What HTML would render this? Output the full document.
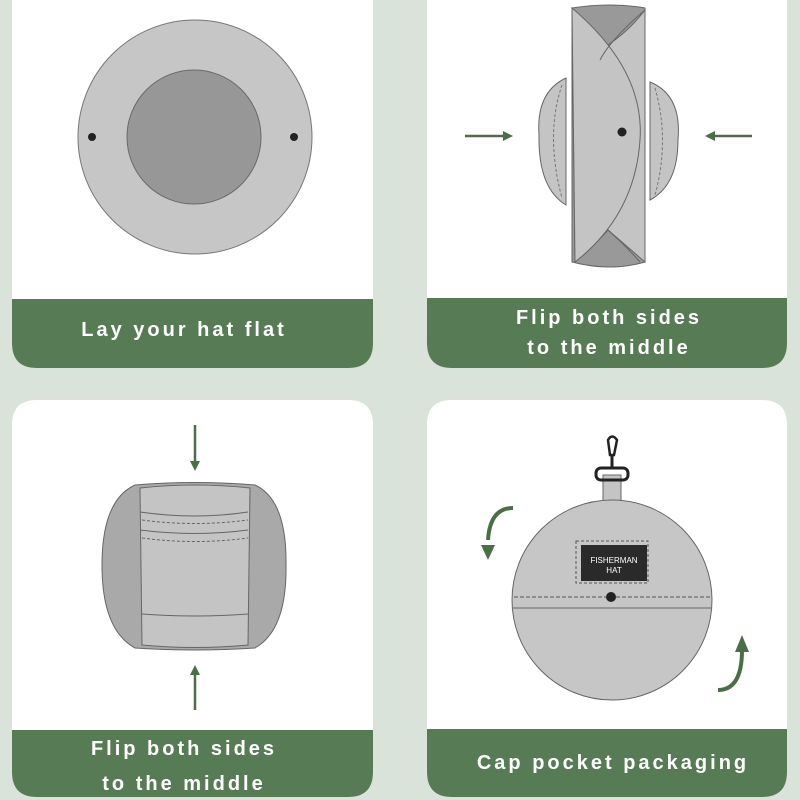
<!DOCTYPE html>
<html><head><meta charset="utf-8"><style>
html,body{margin:0;padding:0;background:#dae3d9;}
svg{display:block}
text{font-family:"Liberation Sans","DejaVu Sans",sans-serif;font-weight:bold;fill:#fff;letter-spacing:3px}
</style></head><body>
<svg width="800" height="800" viewBox="0 0 800 800">
<defs>
<marker id="ah" viewBox="0 0 10 10" refX="5" refY="5" markerWidth="4" markerHeight="4" orient="auto"><path d="M0,0 L10,5 L0,10 z" fill="#4b6e47"/></marker>
</defs>
<rect width="800" height="800" fill="#dae3d9"/>
<!-- Card 1 -->
<path d="M12,-30 H373 V343 Q373,368 348,368 H37 Q12,368 12,343 Z" fill="#fff"/>
<path d="M12,299 H373 V343 Q373,368 348,368 H37 Q12,368 12,343 Z" fill="#577c55"/>
<circle cx="195" cy="137" r="117" fill="#c6c6c6" stroke="#777" stroke-width="1"/>
<circle cx="194" cy="137" r="67" fill="#979797" stroke="#6a6a6a" stroke-width="1"/>
<circle cx="92" cy="137" r="4" fill="#222"/>
<circle cx="294" cy="137" r="4" fill="#222"/>
<text x="184" y="336" font-size="20" text-anchor="middle">Lay your hat flat</text>
<!-- Card 2 -->
<path d="M427,-30 H787 V343 Q787,368 762,368 H452 Q427,368 427,343 Z" fill="#fff"/>
<path d="M427,298 H787 V343 Q787,368 762,368 H452 Q427,368 427,343 Z" fill="#577c55"/>
<g stroke="#666" stroke-width="1">
<path d="M572,8 Q610,2 645,8 L645,262 Q610,272 572,262 Z" fill="#999"/>
<path d="M566,78 Q536,92 539,135 Q538,188 566,205 Z" fill="#c4c4c4"/>
<path d="M650,82 Q682,95 678,140 Q678,185 650,200 Z" fill="#c4c4c4"/>
<path d="M572,8 L608,45 Q630,30 645,10 L645,262 L608,230 Q590,250 575,262 Z" fill="#c4c4c4"/>
<path d="M572,8 Q645,70 640,140 Q635,215 575,262 Z" fill="#c4c4c4"/>
<path d="M645,10 Q610,40 600,60" fill="none"/>
<path d="M608,230 Q625,245 640,262" fill="none"/>
</g>
<path d="M562,85 Q545,135 562,198" fill="none" stroke="#777" stroke-dasharray="3,2"/>
<path d="M655,88 Q670,140 655,195" fill="none" stroke="#777" stroke-dasharray="3,2"/>
<circle cx="622" cy="132" r="4.5" fill="#222"/>
<line x1="465" y1="136" x2="508" y2="136" stroke="#4b6e47" stroke-width="2.5" marker-end="url(#ah)"/>
<line x1="752" y1="136" x2="710" y2="136" stroke="#4b6e47" stroke-width="2.5" marker-end="url(#ah)"/>
<text x="609" y="324" font-size="20" text-anchor="middle">Flip both sides</text>
<text x="609" y="354" font-size="20" text-anchor="middle">to the middle</text>
<!-- Card 3 -->
<path d="M37,400 H348 Q373,400 373,425 V772 Q373,797 348,797 H37 Q12,797 12,772 V425 Q12,400 37,400 Z" fill="#fff"/>
<path d="M12,730 H373 V772 Q373,797 348,797 H37 Q12,797 12,772 Z" fill="#577c55"/>
<path d="M135,485 Q195,480 255,485 Q287,500 286,565 Q287,630 255,648 Q195,652 135,648 Q102,630 102,565 Q102,500 135,485 Z" fill="#a9a9a9" stroke="#666"/>
<path d="M140,488 Q195,482 250,488 L248,645 Q195,650 142,645 Z" fill="#c4c4c4" stroke="#666"/>
<path d="M140,512 Q195,520 248,512" fill="none" stroke="#666"/>
<path d="M140,530 Q195,537 248,530" fill="none" stroke="#666"/>
<path d="M142,614 Q195,618 248,614" fill="none" stroke="#666"/>
<path d="M142,520 Q195,527 248,520 M142,538 Q195,545 248,538" fill="none" stroke="#666" stroke-dasharray="3,2"/>
<line x1="195" y1="425" x2="195" y2="466" stroke="#4b6e47" stroke-width="2.5" marker-end="url(#ah)"/>
<line x1="195" y1="710" x2="195" y2="670" stroke="#4b6e47" stroke-width="2.5" marker-end="url(#ah)"/>
<text x="184" y="755" font-size="20" text-anchor="middle">Flip both sides</text>
<text x="184" y="790" font-size="20" text-anchor="middle">to the middle</text>
<!-- Card 4 -->
<path d="M452,400 H762 Q787,400 787,425 V772 Q787,797 762,797 H452 Q427,797 427,772 V425 Q427,400 452,400 Z" fill="#fff"/>
<path d="M427,729 H787 V772 Q787,797 762,797 H452 Q427,797 427,772 Z" fill="#577c55"/>
<rect x="603" y="475" width="18" height="35" fill="#c4c4c4" stroke="#666"/>
<path d="M608,440 Q612,433 617,440 L614,455 L610,455 Z" fill="none" stroke="#222" stroke-width="2.5"/>
<rect x="596" y="468" width="32" height="12" rx="5" fill="none" stroke="#222" stroke-width="3"/>
<line x1="612" y1="455" x2="612" y2="468" stroke="#222" stroke-width="3"/>
<circle cx="612" cy="600" r="100" fill="#c6c6c6" stroke="#666"/>
<line x1="513" y1="608" x2="711" y2="608" stroke="#666"/>
<line x1="514" y1="597" x2="710" y2="597" stroke="#555" stroke-dasharray="4,2"/>
<circle cx="611" cy="597" r="5" fill="#222"/>
<rect x="576" y="541" width="72" height="42" fill="none" stroke="#555" stroke-dasharray="3,2"/>
<rect x="581" y="545" width="66" height="36" fill="#2a2a2a"/>
<text x="614" y="563" font-size="8" text-anchor="middle" style="letter-spacing:0;font-weight:normal">FISHERMAN</text>
<text x="614" y="573" font-size="8" text-anchor="middle" style="letter-spacing:0;font-weight:normal">HAT</text>
<path d="M513,508 Q490,508 488,540" fill="none" stroke="#4b6e47" stroke-width="4"/>
<path d="M481,545 L495,545 L488,560 Z" fill="#4b6e47"/>
<path d="M718,690 Q742,690 742,650" fill="none" stroke="#4b6e47" stroke-width="4"/>
<path d="M735,652 L749,652 L742,635 Z" fill="#4b6e47"/>
<text x="613" y="769" font-size="20" text-anchor="middle">Cap pocket packaging</text>
</svg>
</body></html>
